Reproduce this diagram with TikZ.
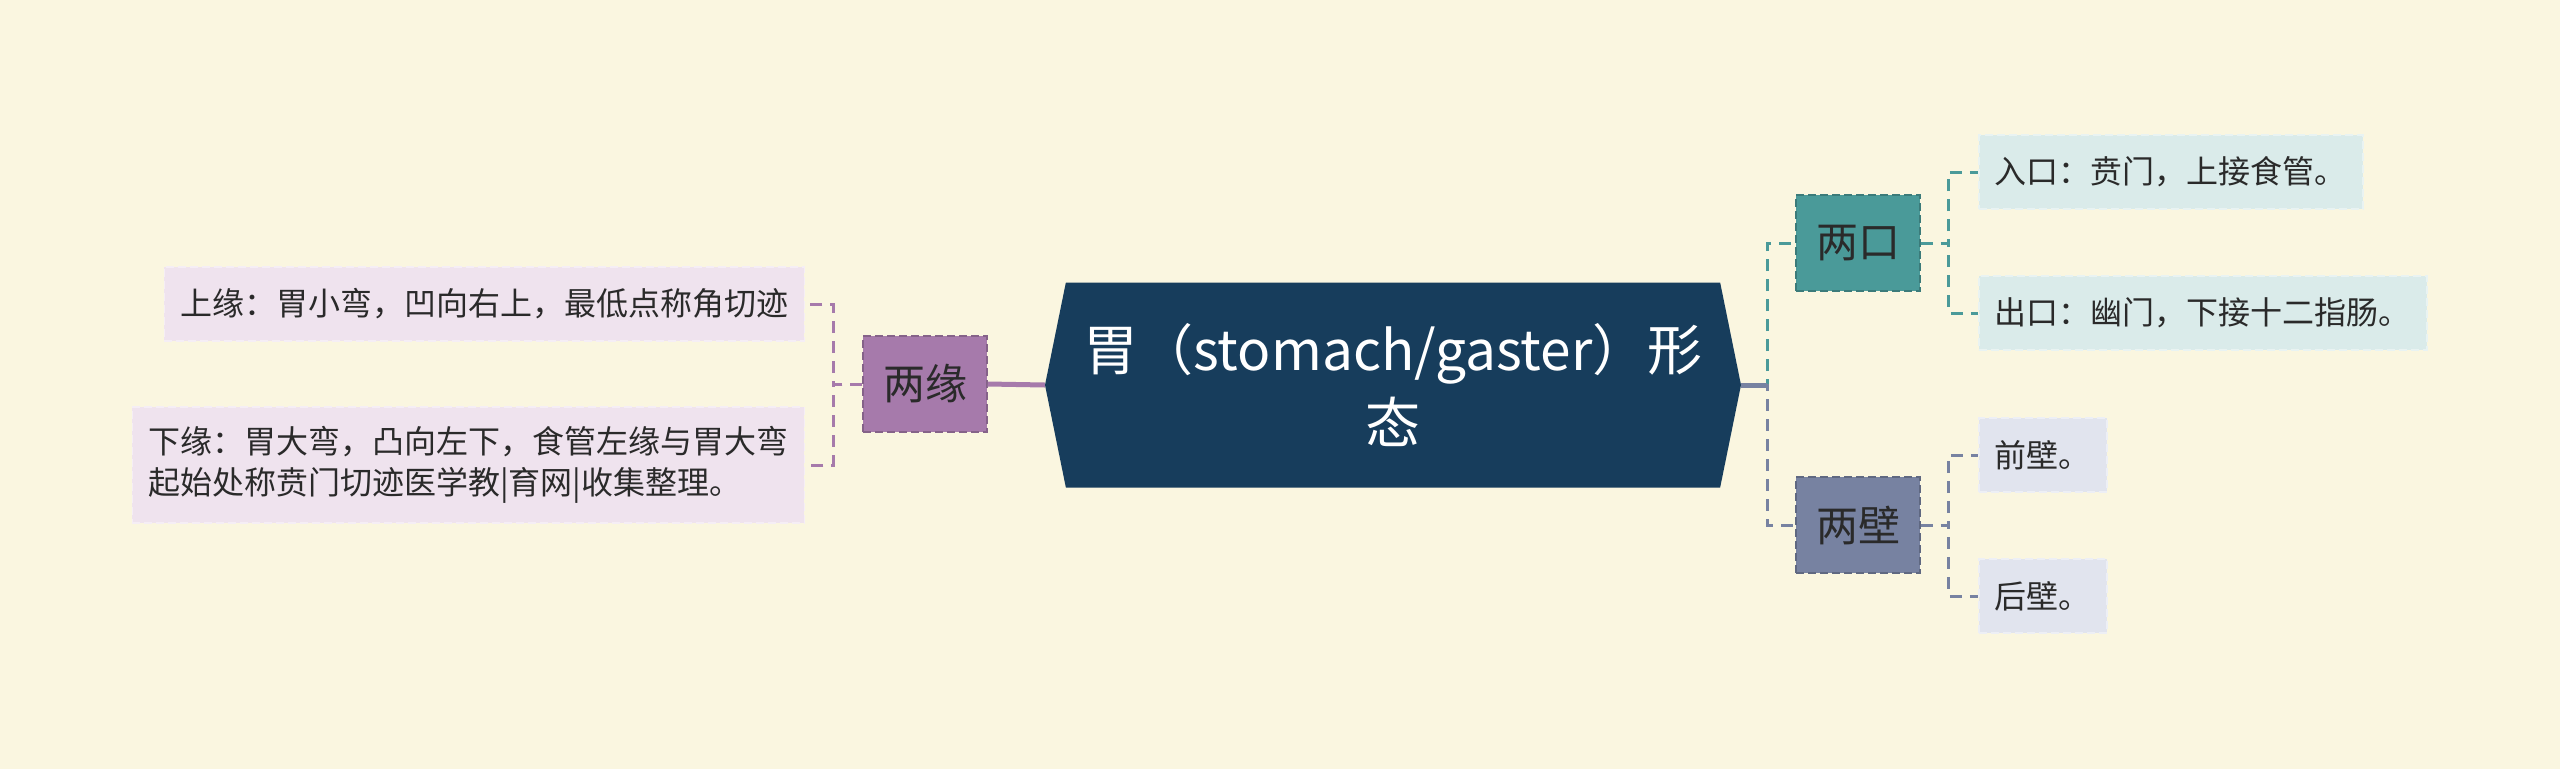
\documentclass[tikz,border=0pt]{standalone}
\usepackage{fontspec}
\setmainfont{Noto Sans CJK SC}
\usepackage{tikz}
\usetikzlibrary{shapes.symbols}

\definecolor{Cream}{HTML}{FAF6E0}
\definecolor{Navy}{HTML}{173D5C}
\definecolor{Plum}{HTML}{A67AAB}
\definecolor{PlumLeaf}{HTML}{EFE3EE}
\definecolor{Sea}{HTML}{4A9A99}
\definecolor{SeaLeaf}{HTML}{DAEBEA}
\definecolor{Slate}{HTML}{7782A1}
\definecolor{SlateLeaf}{HTML}{E1E4EE}
\definecolor{Ink}{HTML}{2A2A2A}

\begin{document}
\begin{tikzpicture}[x=1pt, y=-1pt,
  hub/.style={draw, dashed, line width=1.5pt, dash pattern=on 8pt off 4pt, text=Ink,
              minimum width=124, minimum height=96, font=\fontsize{42}{48}\selectfont},
  leaf/.style={draw, dashed, line width=1.5pt, dash pattern=on 8pt off 4pt, text=Ink,
               inner xsep=16, minimum height=74, align=left, font=\fontsize{32}{41}\selectfont},
  lnk/.style={dashed, line width=3pt, dash pattern=on 12pt off 8pt}]
  \fill[Cream] (0,0) rectangle (2560,769);
  \useasboundingbox (0,0) rectangle (2560,769);

  \node[signal, signal to=west and east, signal pointer angle=157, fill=Navy, text=white,
        minimum width=696, minimum height=205, align=center,
        font=\fontsize{55}{73}\selectfont] (ctr) at (1393,385) {胃（stomach/gaster）形\\态};

  \node[hub, fill=Plum, draw=Plum!80!black] (ly) at (925,384) {两缘};
  \node[hub, fill=Sea, draw=Sea!80!black] (lk) at (1858,243) {两口};
  \node[hub, fill=Slate, draw=Slate!80!black] (lb) at (1858,525) {两壁};

  \node[leaf, fill=PlumLeaf, draw=PlumLeaf!60!white, anchor=east] (sy) at (805,304) {上缘：胃小弯，凹向右上，最低点称角切迹};
  \node[leaf, fill=PlumLeaf, draw=PlumLeaf!60!white, anchor=east, minimum height=116] (xy) at (805,465) {下缘：胃大弯，凸向左下，食管左缘与胃大弯\\起始处称贲门切迹医学教|育网|收集整理。};
  \node[leaf, fill=SeaLeaf, draw=SeaLeaf!60!white, anchor=west] (rk) at (1978,172) {入口：贲门，上接食管。};
  \node[leaf, fill=SeaLeaf, draw=SeaLeaf!60!white, anchor=west] (ck) at (1978,313) {出口：幽门，下接十二指肠。};
  \node[leaf, fill=SlateLeaf, draw=SlateLeaf!60!white, anchor=west] (qb) at (1978,455) {前壁。};
  \node[leaf, fill=SlateLeaf, draw=SlateLeaf!60!white, anchor=west] (hb) at (1978,596) {后壁。};

  % links
  \draw[Plum, line width=5pt] (ctr.west) -- (ly.east);
  \draw[lnk, Plum] (ly.west) -- ++(-29,0) |- (sy.east);
  \draw[lnk, Plum] (ly.west) -- ++(-29,0) |- (xy.east);
  \draw[lnk, Sea] (ctr.east) -- ++(26,0) |- (lk.west);
  \draw[lnk, Slate] (ctr.east) -- ++(26,0) |- (lb.west);
  \draw[Slate, line width=5pt] (ctr.east) -- ++(26,0);
  \draw[lnk, Sea] (lk.east) -- ++(28,0) |- (rk.west);
  \draw[lnk, Sea] (lk.east) -- ++(28,0) |- (ck.west);
  \draw[lnk, Slate] (lb.east) -- ++(28,0) |- (qb.west);
  \draw[lnk, Slate] (lb.east) -- ++(28,0) |- (hb.west);
\end{tikzpicture}
\end{document}
